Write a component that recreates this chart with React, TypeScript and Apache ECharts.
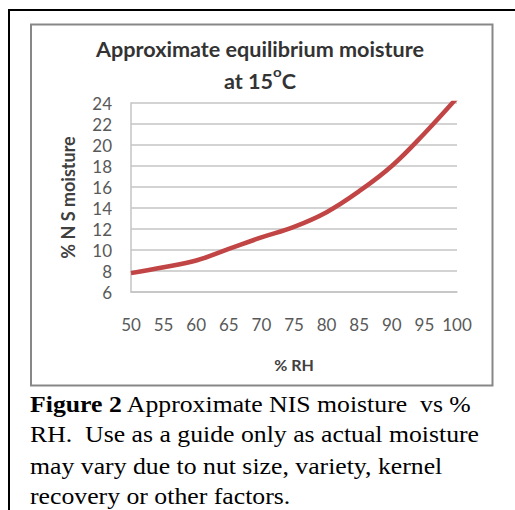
import React, { useEffect, useRef } from "react";
import * as echarts from "echarts";

const rhValues = [50, 55, 60, 65, 70, 75, 80, 85, 90, 95, 100];
const moistureValues = [7.8, 8.35, 9.0, 10.1, 11.2, 12.2, 13.6, 15.6, 18.0, 21.1, 24.5];
const chartTitleLine1 = "Approximate equilibrium moisture";
const chartTitleLine2 = "at 15{s|o}C";
const xAxisName = "% RH";
const yAxisName = "% N S moisture";
const captionText =
  "{b|Figure 2} Approximate NIS moisture  vs %\nRH.  Use as a guide only as actual moisture\nmay vary due to nut size, variety, kernel\nrecovery or other factors.";

export default function App() {
  const ref = useRef<HTMLDivElement>(null);
  useEffect(() => {
    if (!ref.current) return;
    const chart = echarts.init(ref.current, null, { renderer: "svg" });
    const labelColor = "#595959";
    const chartFont = "Lato, 'Open Sans', sans-serif";
    chart.setOption({
      animation: false,
      backgroundColor: "#ffffff",
      grid: { left: 131, right: 58, top: 103, bottom: 218, containLabel: false },
      xAxis: {
        type: "value",
        min: 50,
        max: 100,
        interval: 5,
        name: xAxisName,
        nameLocation: "middle",
        nameGap: 64,
        nameTextStyle: { fontFamily: chartFont, fontWeight: "bold", fontSize: 16, color: "#404040" },
        axisLine: { show: true, lineStyle: { color: "#c4c4c4", width: 1.5 } },
        axisTick: { show: false },
        splitLine: { show: false },
        axisLabel: { margin: 24, fontFamily: chartFont, fontSize: 17, color: labelColor },
      },
      yAxis: {
        type: "value",
        min: 6,
        max: 24,
        interval: 2,
        name: yAxisName,
        nameLocation: "middle",
        nameGap: 54,
        nameRotate: 90,
        nameTextStyle: { fontFamily: chartFont, fontWeight: "bold", fontSize: 18, color: "#404040" },
        axisLine: { show: true, lineStyle: { color: "#c4c4c4", width: 1.5 } },
        axisTick: { show: false },
        splitLine: { show: true, lineStyle: { color: "#c4c4c4", width: 1.5 } },
        axisLabel: { margin: 19, fontFamily: chartFont, fontSize: 17, color: labelColor },
      },
      series: [
        {
          type: "line",
          data: rhValues.map((x, i) => [x, moistureValues[i]]),
          smooth: 0.4,
          symbol: "none",
          lineStyle: { color: "#c24545", width: 4.5 },
          z: 5,
        },
      ],
      graphic: [
        {
          type: "rect",
          z: -10,
          shape: { x: 31, y: 24.5, width: 461.5, height: 361 },
          style: { fill: "#ffffff", stroke: "#878787", lineWidth: 2 },
          silent: true,
        },
        {
          type: "line",
          shape: { x1: 9, y1: 10, x2: 515, y2: 10 },
          style: { stroke: "#000000", lineWidth: 2 },
        },
        {
          type: "line",
          shape: { x1: 9, y1: 9, x2: 9, y2: 510 },
          style: { stroke: "#000000", lineWidth: 2 },
        },
        {
          type: "text",
          x: 260,
          y: 32.5,
          scaleX: 1.08,
          style: {
            text: chartTitleLine1 + "\n" + chartTitleLine2,
            align: "center",
            verticalAlign: "top",
            fontFamily: chartFont,
            fontWeight: "bold",
            fontSize: 20,
            lineHeight: 32,
            fill: "#333333",
            rich: {
              s: { fontFamily: chartFont, fontWeight: "bold", fontSize: 14, lineHeight: 22, verticalAlign: "top", fill: "#333333" },
            },
          },
        },
        {
          type: "text",
          x: 30,
          y: 388,
          scaleX: 1.12,
          style: {
            text: captionText,
            align: "left",
            verticalAlign: "top",
            fontFamily: "'Liberation Serif', 'Times New Roman', serif",
            fontSize: 23,
            lineHeight: 31,
            fill: "#000000",
            rich: {
              b: { fontFamily: "'Liberation Serif', 'Times New Roman', serif", fontWeight: "bold", fontSize: 23, lineHeight: 31, fill: "#000000" },
            },
          },
        },
      ],
    });
    return () => chart.dispose();
  }, []);
  return (
    <div
      ref={ref}
      style={{ position: "absolute", left: 0, top: 0, width: 515, height: 510 }}
    />
  );
}
